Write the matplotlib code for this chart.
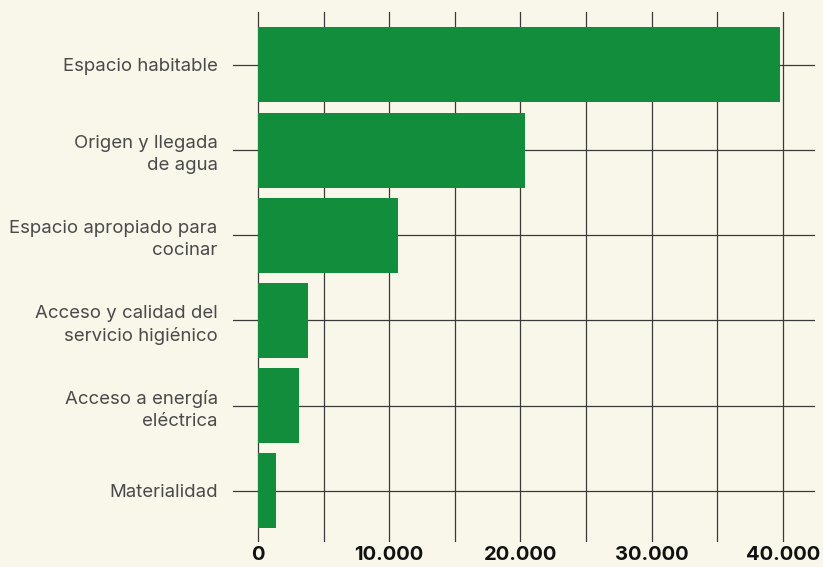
import matplotlib.pyplot as plt
from matplotlib.ticker import FuncFormatter, MultipleLocator

# Datos
categorias = [
    "Espacio habitable",
    "Origen y llegada\nde agua",
    "Espacio apropiado para\ncocinar",
    "Acceso y calidad del\nservicio higiénico",
    "Acceso a energía\neléctrica",
    "Materialidad",
]
valores = [39800, 20350, 10650, 3800, 3100, 1400]

fondo = "#f9f6ea"
verde = "#118d3c"
linea = "#3a3a3a"

fig = plt.figure(figsize=(8.23, 5.67), dpi=100, facecolor=fondo)
ax = fig.add_axes([233 / 823, 25 / 567, (815 - 233) / 823, (542 - 12) / 567])
ax.set_facecolor(fondo)

y = range(len(categorias))
ax.barh(y, valores, height=0.88, color=verde, zorder=3)

# Líneas verticales solo entre 0 y 40.000
for xv in range(0, 40001, 5000):
    ax.axvline(xv, color=linea, lw=0.9, zorder=1)
# Líneas horizontales en cada categoría
for yv in y:
    ax.axhline(yv, color=linea, lw=0.9, zorder=1)

ax.set_xlim(-1905, 42440)
ax.set_ylim(len(categorias) - 0.4, -0.62)

ax.set_yticks(list(y))
ax.set_yticklabels(categorias, fontsize=13.4, color="#4a4a4a",
                   family="Inter", linespacing=1.35)
ax.tick_params(axis="y", length=0, pad=11)

ax.xaxis.set_major_locator(MultipleLocator(10000))
ax.xaxis.set_major_formatter(FuncFormatter(lambda v, p: f"{int(v):,}".replace(",", ".")))
ax.tick_params(axis="x", length=0, pad=3, labelsize=14.5, labelcolor="#111111")
for t in ax.get_xticklabels():
    t.set_fontweight("bold")
    t.set_family("Inter")

for s in ax.spines.values():
    s.set_visible(False)

fig.savefig("out.png", dpi=100, facecolor=fondo)
